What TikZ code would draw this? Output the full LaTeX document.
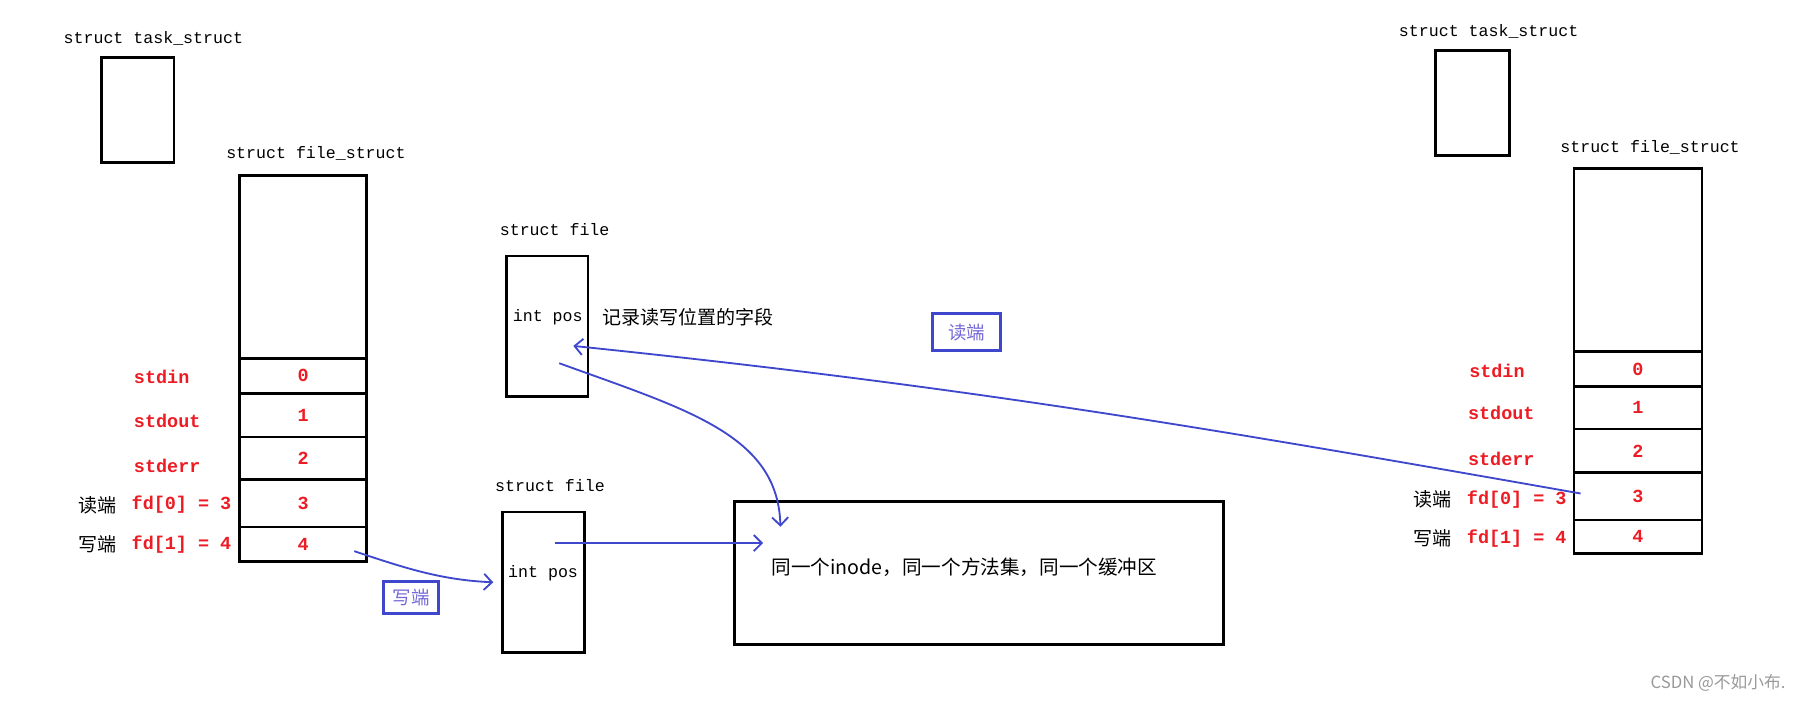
\documentclass[tikz,border=0pt]{standalone}
\usepackage{fontspec}
\setmonofont{Liberation Mono}
\newfontfamily\cjk{Noto Sans CJK SC}
\usetikzlibrary{positioning,arrows.meta}
\definecolor{pblue}{RGB}{63,72,204}
\definecolor{pred}{RGB}{237,28,36}
\definecolor{plabel}{RGB}{115,105,215}

\begin{document}
\begin{tikzpicture}[x=1pt, y=-1pt,
    box/.style={draw, line width=2.4pt, inner sep=0pt},
    cell/.style={box, minimum width=110pt, text=pred,
                 font=\ttfamily\bfseries\fontsize{16}{18}\selectfont},
    title/.style={font=\ttfamily\fontsize{14.4}{16}\selectfont},
    fdname/.style={anchor=west, inner sep=0pt, text=pred,
                   font=\ttfamily\bfseries\fontsize{16}{18}\selectfont},
    zh/.style={anchor=west, inner sep=0pt, font=\cjk\fontsize{16.5}{18}\selectfont},
    endbox/.style={draw=pblue, line width=2.6pt, inner sep=0pt, text=plabel,
                   font=\cjk\fontsize{16}{18}\selectfont},
    wire/.style={pblue, line width=1.6pt},
    >={Straight Barb[length=7pt,width=14pt]}
  ]
  \useasboundingbox (0,0) rectangle (1568,609);

  % left process
  \node[title] (ltaskname) at (133,33) {struct task\_struct};
  \node[box, minimum width=63pt, minimum height=91pt] (ltask) at (119.5,95.5) {};
  \node[title] (lfsname) at (274,133) {struct file\_struct};
  \node[box, minimum width=110pt, minimum height=159pt] (lfs) at (263,231.5) {};
  \node[cell, minimum height=30pt] (l0) at (263,326) {0};
  \node[cell, minimum height=38pt] (l1) at (263,360) {1};
  \node[cell, minimum height=37pt] (l2) at (263,397.5) {2};
  \node[cell, minimum height=41pt] (l3) at (263,436.5) {3};
  \node[cell, minimum height=30pt] (l4) at (263,472) {4};

  \node[fdname] (lin) at (116,327) {stdin};
  \node[fdname] (lout) at (116,365) {stdout};
  \node[fdname] (lerr) at (116,404) {stderr};
  \node[fdname] (lrd) at (114,438) {fd[0] = 3};
  \node[fdname] (lwr) at (114,472) {fd[1] = 4};
  \node[zh] (lrdzh) at (68,438) {读端};
  \node[zh] (lwrzh) at (68,472) {写端};

  % the two struct file and the shared inode
  \node[title] (f1name) at (481,199) {struct file};
  \node[box, minimum width=71pt, minimum height=122pt] (file1) at (474.5,283) {};
  \node[title] (pos1) at (475,275) {int pos};
  \node[zh] (note) at (522,275) {记录读写位置的字段};
  \node[title] (f2name) at (477,421) {struct file};
  \node[box, minimum width=71pt, minimum height=122pt] (file2) at (471.5,505) {};
  \node[title] (pos2) at (471,497) {int pos};
  \node[box, minimum width=424pt, minimum height=124pt] (inode) at (849,497) {};
  \node[zh, font=\cjk\fontsize{17}{19}\selectfont] (shared) at (669,492) {同一个inode，同一个方法集，同一个缓冲区};

  \node[endbox, minimum width=59pt, minimum height=32pt] (rdtag) at (838.5,288) {读端};
  \node[endbox, minimum width=47pt, minimum height=28pt] (wrtag) at (356.5,518) {写端};

  % right process
  \node[title] (rtaskname) at (1291,27) {struct task\_struct};
  \node[box, minimum width=64pt, minimum height=91pt] (rtask) at (1277,89.5) {};
  \node[title] (rfsname) at (1431,128) {struct file\_struct};
  \node[box, minimum width=111pt, minimum height=159pt] (rfs) at (1420.5,225.5) {};
  \node[cell, minimum width=111pt, minimum height=30pt] (r0) at (1420.5,320) {0};
  \node[cell, minimum width=111pt, minimum height=37pt] (r1) at (1420.5,353.5) {1};
  \node[cell, minimum width=111pt, minimum height=38pt] (r2) at (1420.5,391) {2};
  \node[cell, minimum width=111pt, minimum height=41pt] (r3) at (1420.5,430.5) {3};
  \node[cell, minimum width=111pt, minimum height=29pt] (r4) at (1420.5,465.5) {4};

  \node[fdname] (rin) at (1274,322) {stdin};
  \node[fdname] (rout) at (1273,358) {stdout};
  \node[fdname] (rerr) at (1273,398) {stderr};
  \node[fdname] (rrd) at (1272,433) {fd[0] = 3};
  \node[fdname] (rwr) at (1272,467) {fd[1] = 4};
  \node[zh] (rrdzh) at (1226,433) {读端};
  \node[zh] (rwrzh) at (1226,467) {写端};

  \node[font=\cjk\fontsize{14.5}{16}\selectfont, text=black!40] (mark) at (1490,592) {CSDN @不如小布.};

  % hand drawn links
  \coordinate (rdbeg) at ([xshift=7pt,yshift=2.5pt]r3.west);
  \coordinate (rdend) at ([xshift=-14pt,yshift=-17pt]file1.east);
  \draw[wire,->] (rdbeg) .. controls +(-335,-59) and +(338,35) .. (rdend);

  \coordinate (upbeg) at ([xshift=10.5pt,yshift=-32pt]file1.center);
  \coordinate (upend) at ([xshift=41pt,yshift=-23pt]inode.north west);
  \draw[wire,->] (upbeg) .. controls +(110,40) and +(-2,-80) .. (upend);

  \coordinate (lowbeg) at ([xshift=9.5pt,yshift=34pt]file2.center);
  \coordinate (lowend) at ([xshift=26pt,yshift=26pt]inode.west);
  \draw[wire,->] (lowbeg) -- (lowend);

  \coordinate (wrbeg) at ([xshift=-12pt,yshift=-6pt]l4.east);
  \coordinate (wrend) at ([xshift=-7pt]file2.west);
  \draw[wire,->] (wrbeg) .. controls +(45,15) and +(-45,-2) .. (wrend);
\end{tikzpicture}
\end{document}
